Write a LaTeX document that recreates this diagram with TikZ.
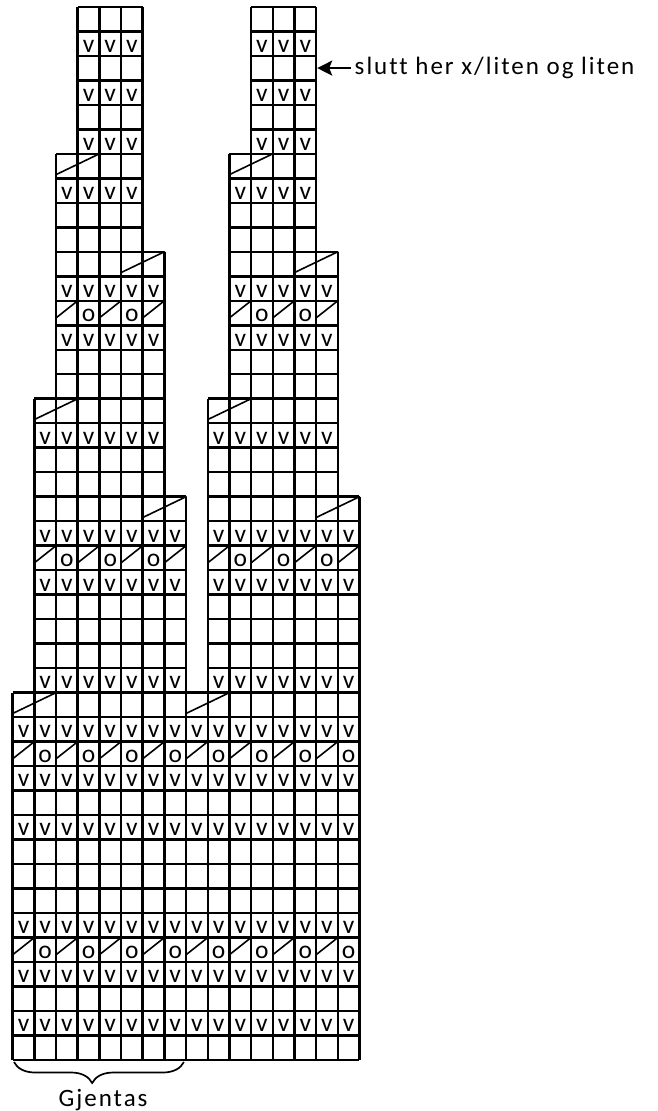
\documentclass[tikz,border=0pt]{standalone}
\usepackage{fontspec}
\setmainfont[Ligatures=NoCommon]{Carlito}
\newfontfamily\spacedfont[LetterSpace=8, Ligatures=NoCommon]{Carlito}
\usepackage{tikz}
\usetikzlibrary{positioning,arrows.meta,decorations.pathreplacing}

\tikzset{
    chartgrid/.style={line width=2.5pt},
    knitdec/.style={line width=1.6pt, line cap=round},
    stitch/.style={anchor=base, inner sep=0pt},
    notetext/.style={font=\spacedfont\fontsize{25}{30}\selectfont},
    arrowline/.style={line width=2pt, -{Stealth[length=15pt, width=15pt, inset=3pt]}},
    bracket/.style={line width=1.7pt, decorate, decoration={brace, mirror, amplitude=21pt, aspect=0.46}}
}

\begin{document}
\begin{tikzpicture}[x=21.67pt, y=24.49pt, font=\fontsize{25.5}{30}\selectfont]
    \path[fill=white, use as bounding box] (-0.586,-2.08) rectangle (29.73,43.28);

    % Left half of the chart and its copy to the right
    \foreach \s in {0,8} {
      \begin{scope}[shift={(\s,0)}]
        % Grid
        \foreach \xa/\xb/\ya/\yb in {0/8/0/15, 1/8/15/23, 1/7/23/27, 2/7/27/33, 2/6/33/37, 3/6/37/43}
            \draw[chartgrid, step=1] (\xa,\ya) grid (\xb,\yb);

        % Rows of v
        \foreach \ca/\cb/\row in {3/5/41, 3/5/39, 3/5/37, 2/5/35, 2/6/31, 2/6/29, 1/6/25,
                                  1/7/21, 1/7/19, 1/7/15, 0/7/13, 0/7/11, 0/7/9, 0/7/5, 0/7/3, 0/7/1}
            \foreach \col in {\ca,...,\cb}
                \node[stitch] (v\s-\row-\col) at (\col+0.5,\row+0.15) {v};

        % Rows with o and single slashes
        \foreach \row/\slashes/\holes in {30/{2,4,6}/{3,5}, 20/{1,3,5,7}/{2,4,6},
                                          12/{0,2,4,6}/{1,3,5,7}, 4/{0,2,4,6}/{1,3,5,7}} {
            \foreach \col in \slashes
                \draw[knitdec] (\col,\row+0.3) -- (\col+1,\row+1);
            \foreach \col in \holes
                \node[stitch] (o\s-\row-\col) at (\col+0.5,\row+0.15) {o};
        }

        % Slashes over two cells
        \foreach \col/\row in {2/36, 5/32, 1/26, 6/22, 0/14}
            \draw[knitdec] (\col,\row+0.15) -- (\col+2,\row+1);
      \end{scope}
    }

    % Note with arrow
    \coordinate (stop) at (14.05,40.5);
    \node (note) [notetext, right=34pt of stop] {slutt her x/liten og liten};
    \draw[arrowline] (note) -- (stop);

    % Repeat brace
    \coordinate (rep-l) at (0.06,-0.08);
    \coordinate (rep-r) at (7.9,-0.08);
    \draw[bracket] (rep-l) -- (rep-r);
    \node (repeat) [notetext, anchor=base] at (4.17,-1.88) {Gjentas};
\end{tikzpicture}
\end{document}
